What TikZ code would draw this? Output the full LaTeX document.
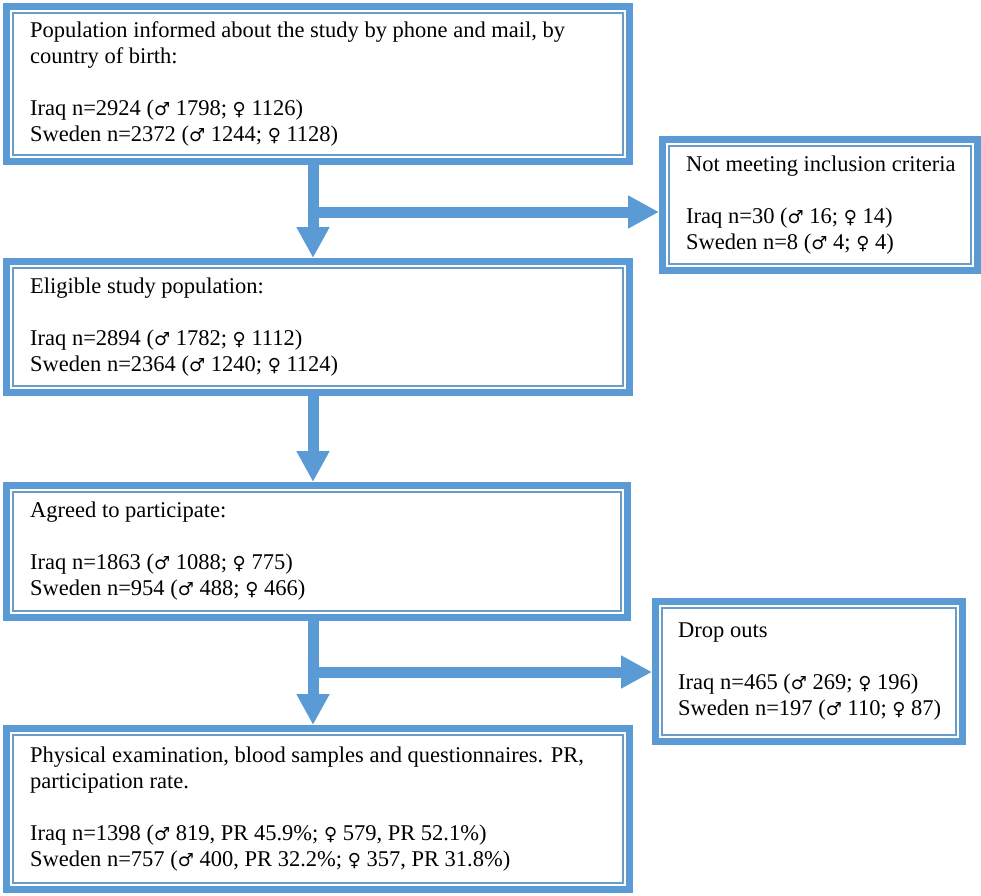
\documentclass[tikz,border=0pt]{standalone}
\usepackage{fontspec}
\setmainfont{Liberation Serif}
\newfontfamily\gsymfont{DejaVu Sans}
\usetikzlibrary{arrows.meta}
\definecolor{bblue}{HTML}{5B9BD5}
\definecolor{iblue}{HTML}{6A9CC8}
\newcommand{\msym}{{\gsymfont\fontsize{18}{18}\selectfont\char"2642}}
\newcommand{\fsym}{{\gsymfont\fontsize{18}{18}\selectfont\char"2640}}
\begin{document}
\begin{tikzpicture}[x=1pt,y=-1pt,
  box/.style={draw=bblue, line width=7pt, fill=white, rectangle, inner sep=0pt,
    path picture={\draw[iblue,line width=2pt]
      ([shift={(6.5pt,6.5pt)}]path picture bounding box.south west) rectangle
      ([shift={(-6.5pt,-6.5pt)}]path picture bounding box.north east);}},
  txt/.style={anchor=west, inner sep=0pt, align=left, font=\fontsize{22.5}{26}\selectfont},
  fat/.style={draw=bblue, line width=11pt, -{Triangle[width=31pt,length=31pt]}}]
\useasboundingbox (0,0) rectangle (981,895);
\node[box, minimum width=623pt, minimum height=155pt] (b1) at (318,84) {};
\node[box, minimum width=315pt, minimum height=131pt] (n) at (820,205) {};
\node[box, minimum width=623pt, minimum height=131pt] (b2) at (318,327) {};
\node[box, minimum width=621pt, minimum height=132pt] (b3) at (317,551.5) {};
\node[box, minimum width=307pt, minimum height=140pt] (d) at (809,671.5) {};
\node[box, minimum width=623pt, minimum height=161pt] (b5) at (318,809) {};
\node[txt] (t1) at ([xshift=27pt]b1.west) {Population informed about the study by phone and mail, by\\ country of birth:\\[26pt] Iraq n=2924 (\msym\ 1798; \fsym\ 1126)\\ Sweden n=2372 (\msym\ 1244; \fsym\ 1128)};
\node[txt] (tn) at ([xshift=27pt]n.west) {Not meeting inclusion criteria\\[26pt] Iraq n=30 (\msym\ 16; \fsym\ 14)\\ Sweden n=8 (\msym\ 4; \fsym\ 4)};
\node[txt] (t2) at ([xshift=27pt]b2.west) {Eligible study population:\\[26pt] Iraq n=2894 (\msym\ 1782; \fsym\ 1112)\\ Sweden n=2364 (\msym\ 1240; \fsym\ 1124)};
\node[txt] (t3) at ([xshift=27pt]b3.west) {Agreed to participate:\\[26pt] Iraq n=1863 (\msym\ 1088; \fsym\ 775)\\ Sweden n=954 (\msym\ 488; \fsym\ 466)};
\node[txt] (td) at ([xshift=26pt]d.west) {Drop outs\\[26pt] Iraq n=465 (\msym\ 269; \fsym\ 196)\\ Sweden n=197 (\msym\ 110; \fsym\ 87)};
\node[txt] (t5) at ([xshift=27pt]b5.west) {Physical examination, blood samples and questionnaires. PR,\\ participation rate.\\[26pt] Iraq n=1398 (\msym\ 819, PR 45.9\%; \fsym\ 579, PR 52.1\%)\\ Sweden n=757 (\msym\ 400, PR 32.2\%; \fsym\ 357, PR 31.8\%)};
\coordinate (ax) at (313,0);
\coordinate (j1) at (313,212);
\coordinate (j2) at (313,672);
\draw[fat] (ax |- b1.south) -- (ax |- b2.north);
\draw[fat] (j1) -- (j1 -| n.west);
\draw[fat] (ax |- b2.south) -- (ax |- b3.north);
\draw[fat] (ax |- b3.south) -- (ax |- b5.north);
\draw[fat] (j2) -- (j2 -| d.west);
\end{tikzpicture}
\end{document}
